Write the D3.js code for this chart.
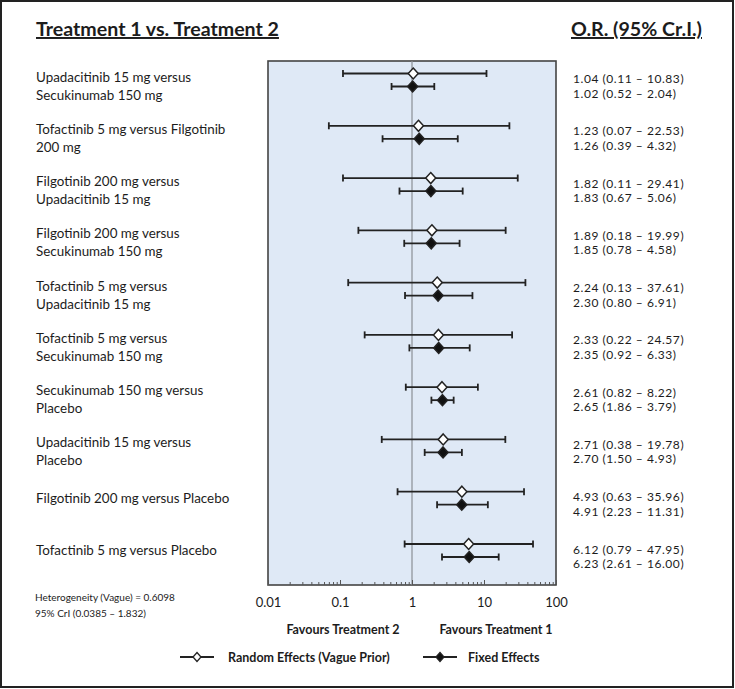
<!DOCTYPE html>
<html><head><meta charset="utf-8">
<script src="https://cdn.jsdelivr.net/npm/d3@7"></script>
<style>body{margin:0;background:#fff}svg{display:block}text{font-family:Lato,"Open Sans",sans-serif;fill:#1c1c1c}</style>
</head><body><svg id="c" width="735" height="689"></svg>
<script>
const comparisons = [
  ["Upadacitinib 15 mg versus","Secukinumab 150 mg"],
  ["Tofactinib 5 mg versus Filgotinib","200 mg"],
  ["Filgotinib 200 mg versus","Upadacitinib 15 mg"],
  ["Filgotinib 200 mg versus","Secukinumab 150 mg"],
  ["Tofactinib 5 mg versus","Upadacitinib 15 mg"],
  ["Tofactinib 5 mg versus","Secukinumab 150 mg"],
  ["Secukinumab 150 mg versus","Placebo"],
  ["Upadacitinib 15 mg versus","Placebo"],
  ["Filgotinib 200 mg versus Placebo"],
  ["Tofactinib 5 mg versus Placebo"]
];
const randomOR = [1.04,1.23,1.82,1.89,2.24,2.33,2.61,2.71,4.93,6.12];
const randomLo = [0.11,0.07,0.11,0.18,0.13,0.22,0.82,0.38,0.63,0.79];
const randomHi = [10.83,22.53,29.41,19.99,37.61,24.57,8.22,19.78,35.96,47.95];
const fixedOR = [1.02,1.26,1.83,1.85,2.30,2.35,2.65,2.70,4.91,6.23];
const fixedLo = [0.52,0.39,0.67,0.78,0.80,0.92,1.86,1.50,2.23,2.61];
const fixedHi = [2.04,4.32,5.06,4.58,6.91,6.33,3.79,4.93,11.31,16.00];
const majorTicks = [0.01,0.1,1,10,100];
const tickLabels = ["0.01","0.1","1","10","100"];

const svg = d3.select("#c");
const L=268,R=556,T=61,B=585;
const x = d3.scaleLog().domain([0.01,100]).range([L,R]);
const y = d3.scalePoint().domain(d3.range(comparisons.length)).range([80,550.5]);
const off = 6.5;

// outer frame
svg.append("rect").attr("x",1).attr("y",1).attr("width",732).attr("height",686)
  .attr("fill","#fff").attr("stroke","#222").attr("stroke-width",2);

// title
svg.append("text").attr("x",36).attr("y",36).attr("font-size",19.6).attr("font-weight",700)
  .attr("text-decoration","underline").text("Treatment 1 vs. Treatment 2");
svg.append("text").attr("x",702).attr("y",36).attr("text-anchor","end").attr("font-size",19.6).attr("font-weight",700)
  .attr("text-decoration","underline").text("O.R. (95% Cr.I.)");

// plot box
svg.append("rect").attr("x",L).attr("y",T).attr("width",R-L).attr("height",B-T)
  .attr("fill","#dfe9f6").attr("stroke","#444").attr("stroke-width",1.6);
svg.append("line").attr("x1",x(1)).attr("x2",x(1)).attr("y1",T).attr("y2",B)
  .attr("stroke","#8a8f96").attr("stroke-width",1.2);

// axis
const minor = [];
[0.01,0.1,1,10].forEach(d=>{for(let k=2;k<=9;k++) minor.push(d*k);});
svg.append("g").attr("transform",`translate(0,${B})`)
  .call(d3.axisBottom(x).tickValues(minor).tickSize(-3).tickFormat(""))
  .call(g=>{g.select(".domain").remove();g.selectAll("line").attr("stroke","#555");});
svg.append("g").attr("transform",`translate(0,${B})`)
  .call(d3.axisBottom(x).tickValues(majorTicks).tickSize(-5).tickPadding(13).tickFormat((d,i)=>tickLabels[i]))
  .call(g=>{g.select(".domain").remove();g.selectAll("line").attr("stroke","#555");
    g.selectAll("text").attr("font-size",13).attr("font-family","Lato,sans-serif").attr("fill","#1c1c1c");});

// series
function drawSeries(or,lo,hi,dy,fill){
  const g = svg.append("g");
  const idx = d3.range(or.length);
  g.selectAll(".ci").data(idx).join("line")
    .attr("x1",i=>x(lo[i])).attr("x2",i=>x(hi[i]))
    .attr("y1",i=>y(i)+dy).attr("y2",i=>y(i)+dy)
    .attr("stroke","#222").attr("stroke-width",1.8);
  ["lo","hi"].forEach(side=>{
    g.selectAll(".cap"+side).data(idx).join("line")
      .attr("x1",i=>x(side==="lo"?lo[i]:hi[i])).attr("x2",i=>x(side==="lo"?lo[i]:hi[i]))
      .attr("y1",i=>y(i)+dy-3.5).attr("y2",i=>y(i)+dy+3.5)
      .attr("stroke","#222").attr("stroke-width",1.8);
  });
  g.selectAll(".pt").data(idx).join("path")
    .attr("d","M0,-5.5L5,0L0,5.5L-5,0Z")
    .attr("transform",i=>`translate(${x(or[i])},${y(i)+dy})`)
    .attr("fill",fill).attr("stroke","#222").attr("stroke-width",1.5);
}
drawSeries(randomOR,randomLo,randomHi,-off,"#fff");
drawSeries(fixedOR,fixedLo,fixedHi,off,"#111");

// left labels
comparisons.forEach((lines,i)=>{
  const t = svg.append("text").attr("x",36).attr("font-size",13.4);
  if(lines.length===2){
    t.attr("y",y(i)+1.5);
    t.append("tspan").attr("x",36).text(lines[0]);
    t.append("tspan").attr("x",36).attr("dy",18).text(lines[1]);
  } else {
    t.attr("y",y(i)+4.5).text(lines[0]);
  }
});

// right labels
const fmt = (a,b,c)=>`${a.toFixed(2)} (${b.toFixed(2)} – ${c.toFixed(2)})`;
d3.range(randomOR.length).forEach(i=>{
  svg.append("text").attr("x",573).attr("y",y(i)+3).attr("font-size",12).attr("letter-spacing",0.55)
    .text(fmt(randomOR[i],randomLo[i],randomHi[i]));
  svg.append("text").attr("x",573).attr("y",y(i)+17.5).attr("font-size",12).attr("letter-spacing",0.55)
    .text(fmt(fixedOR[i],fixedLo[i],fixedHi[i]));
});

// heterogeneity
svg.append("text").attr("x",35).attr("y",601).attr("font-size",10).text("Heterogeneity (Vague) = 0.6098");
svg.append("text").attr("x",35).attr("y",617).attr("font-size",10).text("95% CrI (0.0385 – 1.832)");

// favours
svg.append("text").attr("x",343).attr("y",634).attr("text-anchor","middle").attr("font-size",12.5).attr("font-weight",700).text("Favours Treatment 2");
svg.append("text").attr("x",496).attr("y",634).attr("text-anchor","middle").attr("font-size",12.5).attr("font-weight",700).text("Favours Treatment 1");

// legend
const legend = [{x1:180,x2:214,fill:"#fff",label:"Random Effects (Vague Prior)",tx:228},
                {x1:423,x2:457,fill:"#111",label:"Fixed Effects",tx:468}];
legend.forEach(d=>{
  svg.append("line").attr("x1",d.x1).attr("x2",d.x2).attr("y1",657).attr("y2",657).attr("stroke","#222").attr("stroke-width",1.8);
  svg.append("path").attr("d","M0,-4.5L4,0L0,4.5L-4,0Z").attr("transform",`translate(${(d.x1+d.x2)/2},657)`)
    .attr("fill",d.fill).attr("stroke","#222").attr("stroke-width",1.3);
  svg.append("text").attr("x",d.tx).attr("y",661.5).attr("font-size",12.5).attr("font-weight",700).text(d.label);
});
</script></body></html>
